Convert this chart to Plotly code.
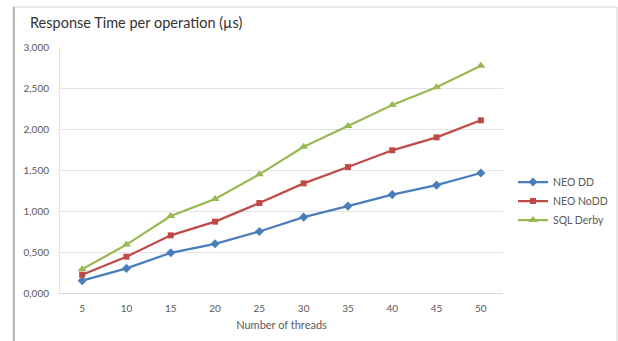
import plotly.graph_objects as go

threads = ["5", "10", "15", "20", "25", "30", "35", "40", "45", "50"]
neo_dd = [0.150, 0.300, 0.490, 0.600, 0.750, 0.925, 1.060, 1.200, 1.315, 1.463]
neo_nodd = [0.223, 0.443, 0.703, 0.870, 1.097, 1.337, 1.536, 1.740, 1.898, 2.106]
sql_derby = [0.289, 0.590, 0.939, 1.146, 1.447, 1.784, 2.036, 2.293, 2.508, 2.772]

series = [
    ("NEO DD", neo_dd, "#4A7EBB", "diamond", 7),
    ("NEO NoDD", neo_nodd, "#BE4B48", "square", 6),
    ("SQL Derby", sql_derby, "#98B954", "triangle-up", 8),
]

FONT = "Lato"
fig = go.Figure()
for name, vals, color, sym, size in series:
    fig.add_trace(go.Scatter(
        x=threads, y=vals, name=name, mode="lines+markers",
        line=dict(color=color, width=2.25),
        marker=dict(symbol=sym, size=size, color=color),
    ))

W, H = 618, 341
L, R, T, B = 60, 115, 47, 48
pw, ph = W - L - R, H - T - B

def px(x):
    return (x - L) / pw

def py(y):
    return (H - B - y) / ph

fig.update_layout(
    width=W, height=H,
    margin=dict(l=L, r=R, t=T, b=B, autoexpand=False),
    paper_bgcolor="white", plot_bgcolor="white",
    separators=",.",
    font=dict(family=FONT, size=10, color="#595959"),
    showlegend=True,
    legend=dict(
        x=px(513), y=py(201), xanchor="left", yanchor="middle",
        font=dict(family=FONT, size=10.5, color="#595959"),
        itemwidth=30, tracegroupgap=0, bgcolor="rgba(0,0,0,0)",
    ),
    xaxis=dict(
        type="category", range=[-0.5, 9.5],
        showgrid=False, showline=True, linecolor="#d9d9d9", linewidth=1,
        ticks="", ticklabelstandoff=6,
        tickfont=dict(family=FONT, size=10, color="#595959"),
        title=dict(text="Number of threads", standoff=8,
                   font=dict(family=FONT, size=11, color="#595959")),
        fixedrange=True,
    ),
    yaxis=dict(
        range=[0, 3], dtick=0.5, tickformat=".3f",
        showgrid=True, gridcolor="#e3e3e3", gridwidth=1,
        showline=True, linecolor="#e3e3e3", zeroline=False,
        ticks="", ticklabelstandoff=8,
        tickfont=dict(family=FONT, size=10, color="#595959"),
        fixedrange=True,
    ),
    shapes=[
        dict(type="rect", xref="paper", yref="paper",
             x0=px(13), x1=px(617), y0=py(350), y1=py(7),
             line=dict(color="#d4d4d4", width=1), layer="below"),
        dict(type="line", xref="paper", yref="paper",
             x0=px(14), x1=px(14), y0=py(350), y1=py(7),
             line=dict(color="#b8b8b8", width=2)),
    ],
    annotations=[
        dict(text="Response Time per operation (µs)", xref="paper", yref="paper",
             x=px(28), y=py(22), xanchor="left", yanchor="middle",
             showarrow=False, font=dict(family=FONT, size=14.5, color="#333333")),
    ],
)

fig.write_html("out.html")
